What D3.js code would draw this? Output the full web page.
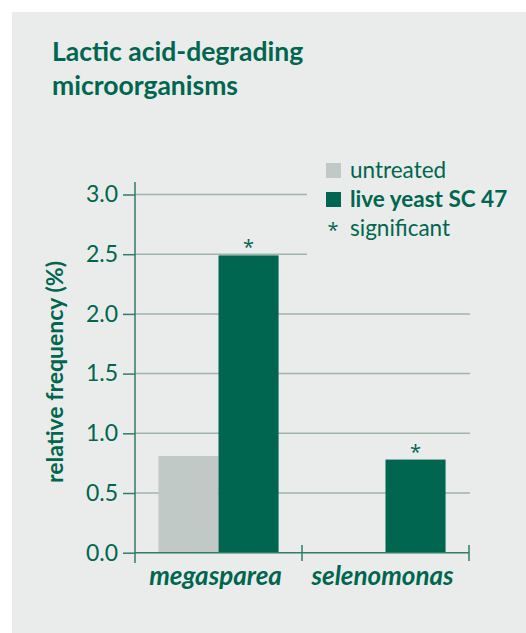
<!DOCTYPE html>
<html>
<head>
<meta charset="utf-8">
<script src="https://cdn.jsdelivr.net/npm/d3@7"></script>
<style>
  body { margin: 0; background: #fff; }
  text { font-family: Lato, "Open Sans", sans-serif; fill: #00664f; }
</style>
</head>
<body>
<svg></svg>
<script>
var width = 526;
var height = 633;

// data
var categories = ["megasparea", "selenomonas"];
var series = ["untreated", "live yeast SC 47"];
var untreated = [0.81, 0];
var liveYeast = [2.49, 0.78];
var significant = [true, true]; // * above live yeast bars
var yTicks = [0.0, 0.5, 1.0, 1.5, 2.0, 2.5, 3.0];

var colors = { "untreated": "#c0c9c6", "live yeast SC 47": "#00664f" };
var green = "#00664f";
var starFont = "'Open Sans', sans-serif";

var data = categories.map((c, i) => ({
  category: c,
  values: [
    { key: series[0], value: untreated[i] },
    { key: series[1], value: liveYeast[i] },
  ],
  sig: significant[i],
}));

var svg = d3.select("svg").attr("width", width).attr("height", height);

// grey panel
svg.append("rect")
  .attr("x", 12).attr("y", 12)
  .attr("width", width - 12).attr("height", height - 12)
  .attr("fill", "#eaeceb");

// scales
var yScale = d3.scaleLinear().domain([0, 3]).range([552.7, 194.5]);
var xScale = d3.scaleBand().domain(categories).range([135, 469]).padding(0);
var xSub = d3.scaleBand().domain(series).range([0, xScale.bandwidth()]).paddingOuter(0.39).paddingInner(0);

// gridlines (top two stop short of legend)
svg.append("g")
  .selectAll("line")
  .data(yTicks.filter((d) => d > 0))
  .enter()
  .append("line")
  .attr("x1", 135)
  .attr("x2", (d) => (d >= 2.5 ? 307 : 470))
  .attr("y1", (d) => yScale(d))
  .attr("y2", (d) => yScale(d))
  .attr("stroke", "#9fb4ad")
  .attr("stroke-width", 1.5);

// bars
var groups = svg.append("g")
  .selectAll("g")
  .data(data)
  .enter()
  .append("g")
  .attr("transform", (d) => `translate(${xScale(d.category)},0)`);

groups.selectAll("rect")
  .data((d) => d.values.filter((v) => v.value > 0))
  .enter()
  .append("rect")
  .attr("x", (d) => xSub(d.key))
  .attr("width", xSub.bandwidth())
  .attr("y", (d) => yScale(d.value))
  .attr("height", (d) => yScale(0) - yScale(d.value))
  .attr("fill", (d) => colors[d.key]);

// significance stars
groups.filter((d) => d.sig)
  .append("text")
  .attr("x", xSub(series[1]) + xSub.bandwidth() / 2)
  .attr("y", (d) => yScale(d.values[1].value) - 1)
  .style("text-anchor", "middle")
  .style("font-family", starFont)
  .style("font-size", "20px")
  .text("*");

// Y AXIS
var yAxis = d3.axisLeft(yScale)
  .tickValues(yTicks)
  .tickSize(12)
  .tickSizeOuter(0)
  .tickPadding(5)
  .tickFormat(d3.format(".1f"));

var yG = svg.append("g").attr("transform", "translate(135,0)").call(yAxis);
yG.select(".domain").remove();
yG.selectAll(".tick line").attr("stroke", "#2f7d6a").attr("stroke-width", 1.5);
yG.selectAll(".tick text")
  .style("font-family", "Lato, sans-serif")
  .style("font-size", "23px")
  .attr("fill", green);

// axis lines
svg.append("line")
  .attr("x1", 135).attr("x2", 135)
  .attr("y1", 182).attr("y2", 563)
  .attr("stroke", "#2f7d6a").attr("stroke-width", 1.5);
svg.append("line")
  .attr("x1", 135).attr("x2", 469)
  .attr("y1", yScale(0)).attr("y2", yScale(0))
  .attr("stroke", "#2f7d6a").attr("stroke-width", 1.5);

// x ticks at band boundaries
svg.append("g")
  .selectAll("line")
  .data(categories.slice(1).map((c) => xScale(c)).concat([xScale.range()[1]]))
  .enter()
  .append("line")
  .attr("x1", (d) => d).attr("x2", (d) => d)
  .attr("y1", 545).attr("y2", 561)
  .attr("stroke", "#2f7d6a").attr("stroke-width", 1.5);

// x labels
svg.append("g")
  .selectAll("text")
  .data(categories)
  .enter()
  .append("text")
  .attr("x", (d) => xScale(d) + xScale.bandwidth() / 2 - 3)
  .attr("y", 585)
  .style("text-anchor", "middle")
  .style("font-size", "26px")
  .style("font-weight", "bold")
  .style("font-style", "italic")
  .text((d) => d);

// Y AXIS LABELLING
svg.append("text")
  .attr("transform", "rotate(-90)")
  .attr("x", -372)
  .attr("y", 63)
  .style("text-anchor", "middle")
  .style("font-size", "23px")
  .style("font-weight", "bold")
  .text("relative frequency (%)");

// CHART TITLE
var title = svg.append("text").attr("x", 52).attr("y", 61)
  .style("font-size", "26.5px").style("font-weight", "bold");
title.append("tspan").attr("x", 52).text("Lactic acid-degrading");
title.append("tspan").attr("x", 52).attr("dy", 34).text("microorganisms");

// LEGEND
var legend = svg.append("g").attr("transform", "translate(326,163)");
series.forEach((s, i) => {
  legend.append("rect")
    .attr("x", 0).attr("y", i * 29)
    .attr("width", 15).attr("height", 15)
    .attr("fill", colors[s]);
  legend.append("text")
    .attr("x", 24).attr("y", i * 29 + 15)
    .style("font-size", "22.5px")
    .style("font-weight", i === 1 ? "bold" : "normal")
    .text(s);
});
legend.append("text").attr("x", 7).attr("y", 74)
  .style("text-anchor", "middle")
  .style("font-family", starFont)
  .style("font-size", "20px").text("*");
legend.append("text").attr("x", 24).attr("y", 2 * 29 + 15)
  .style("font-size", "22.5px").text("significant");
</script>
</body>
</html>
